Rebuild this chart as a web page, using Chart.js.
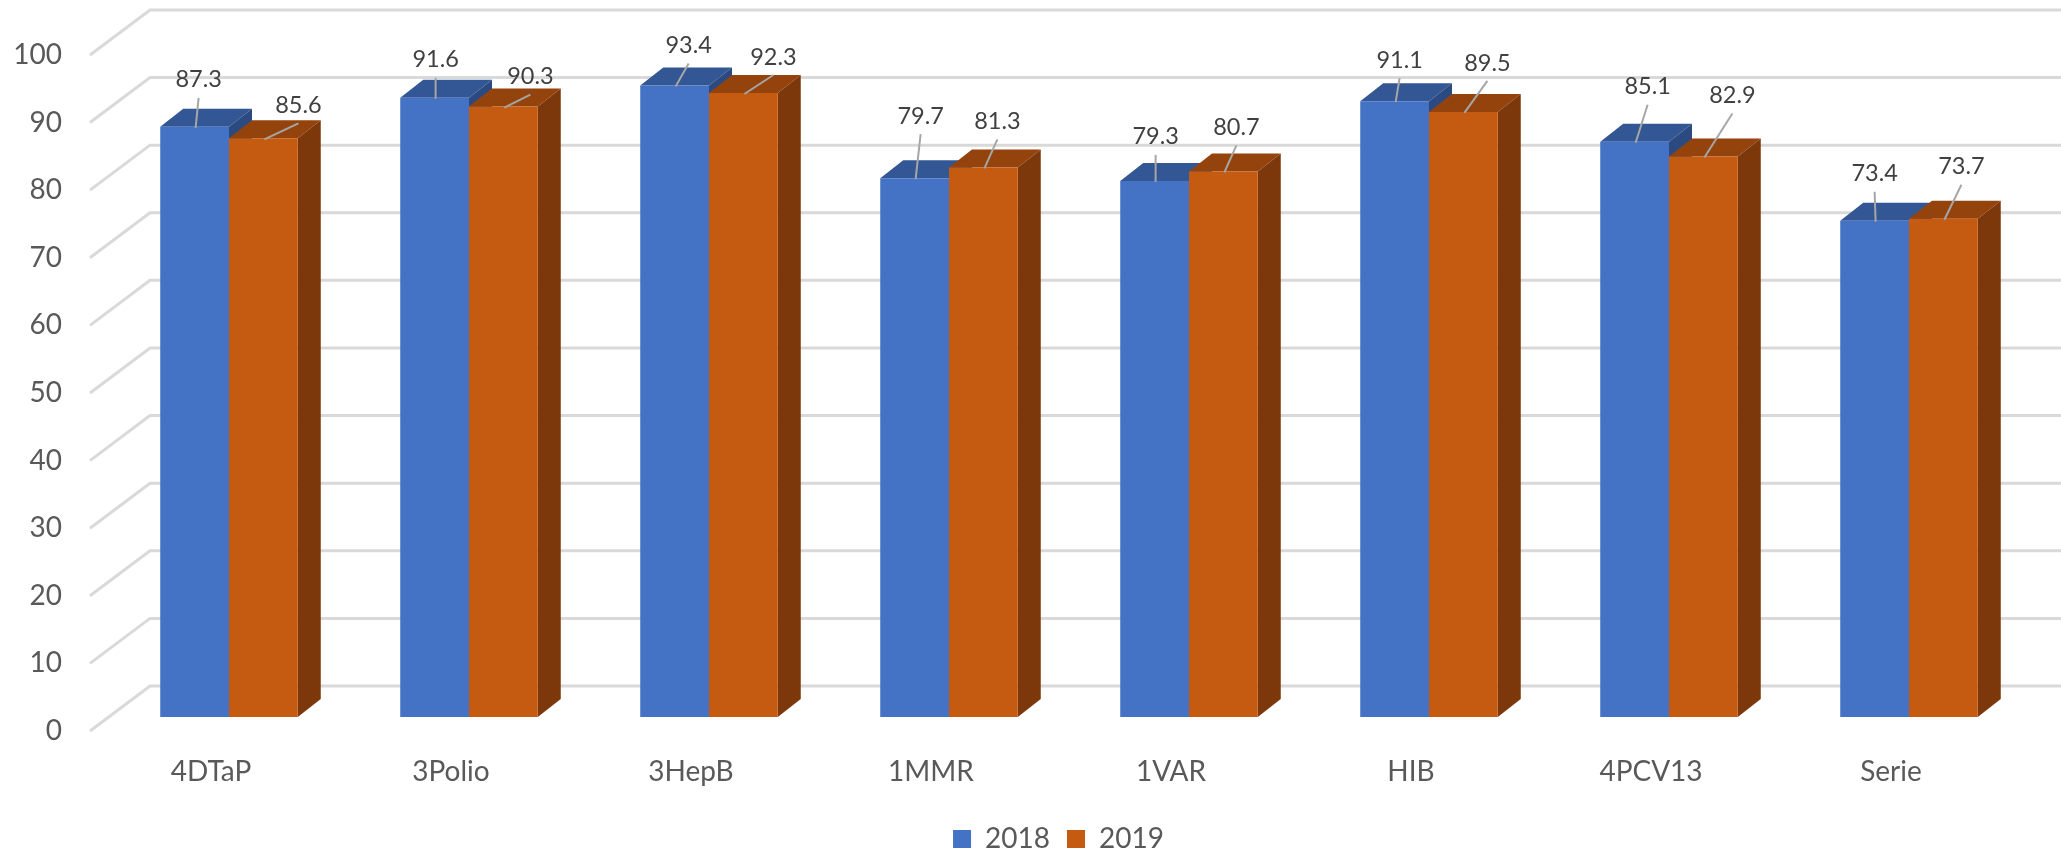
<!DOCTYPE html>
<html>
<head>
<meta charset="utf-8">
<style>html,body{margin:0;padding:0;background:#fff;overflow:hidden}canvas{display:block}</style>
<script src="https://cdn.jsdelivr.net/npm/chart.js@4"></script>
</head>
<body>
<canvas id="c" width="2061" height="850"></canvas>
<script>
const categories = ['4DTaP','3Polio','3HepB','1MMR','1VAR','HIB','4PCV13','Serie'];
const values2018 = [87.3,91.6,93.4,79.7,79.3,91.1,85.1,73.4];
const values2019 = [85.6,90.3,92.3,81.3,80.7,89.5,82.9,73.7];
const yTickStep = 10;

// Callout placement of each data label, relative to the top of its bar
const calloutDx = [[4,1,14,6,1,5,13,0],[35,27,30,14,13,24,29,18]];
const calloutDy = [[-47,-38,-40,-62,-44,-41,-55,-47],[-33,-30,-36,-46,-44,-49,-61,-52]];

const FONT = 'Lato, Carlito, Calibri, sans-serif';
const BAR_DEPTH_X = 23, BAR_DEPTH_Y = 18;
const WALL_DEPTH_X = 60, WALL_DEPTH_Y = 45, WALL_FRONT_X = 90;
const faces = [{top:'#335694',side:'#2B4A82'},{top:'#94430D',side:'#7C380A'}];

function poly(ctx, pts, fill){
  ctx.beginPath();
  pts.forEach((p,i)=> i ? ctx.lineTo(p[0],p[1]) : ctx.moveTo(p[0],p[1]));
  ctx.closePath();
  ctx.fillStyle = fill;
  ctx.fill();
}

const scene3d = {
  id:'scene3d',
  afterLayout(chart){
    // the legend sits off-centre and low in the reference
    const lg = chart.legend;
    lg.left += 44; lg.right += 44;
    lg.top += 13; lg.bottom += 13;
  },
  beforeDatasetsDraw(chart){
    const {ctx, scales} = chart;
    const axis = scales.yFront;
    ctx.save();
    ctx.strokeStyle = '#D9D9D9';
    ctx.lineWidth = 3;
    ctx.lineJoin = 'miter';
    axis.ticks.forEach(t=>{
      const py = axis.getPixelForValue(t.value);
      ctx.beginPath();
      ctx.moveTo(WALL_FRONT_X, py);
      ctx.lineTo(WALL_FRONT_X + WALL_DEPTH_X, py - WALL_DEPTH_Y);
      ctx.lineTo(chart.width, py - WALL_DEPTH_Y);
      ctx.stroke();
    });
    [0,1].forEach(ds=>{
      chart.getDatasetMeta(ds).data.forEach(bar=>{
        const p = bar.getProps(['x','y','base','width'], true);
        const l = p.x - p.width/2, r = p.x + p.width/2;
        poly(ctx, [[l,p.y],[l+BAR_DEPTH_X,p.y-BAR_DEPTH_Y],[r+BAR_DEPTH_X,p.y-BAR_DEPTH_Y],[r,p.y]], faces[ds].top);
        poly(ctx, [[r,p.y],[r+BAR_DEPTH_X,p.y-BAR_DEPTH_Y],[r+BAR_DEPTH_X,p.base-BAR_DEPTH_Y],[r,p.base]], faces[ds].side);
      });
    });
    ctx.restore();
  },
  afterDatasetsDraw(chart){
    const {ctx} = chart;
    ctx.save();
    ctx.font = '23.5px ' + FONT;
    ctx.textAlign = 'center';
    ctx.textBaseline = 'middle';
    [0,1].forEach(ds=>{
      const vals = chart.data.datasets[ds].data;
      chart.getDatasetMeta(ds).data.forEach((bar,i)=>{
        const p = bar.getProps(['x','y'], true);
        const lx = p.x + calloutDx[ds][i], ly = p.y + calloutDy[ds][i];
        ctx.strokeStyle = '#A6A6A6';
        ctx.lineWidth = 2;
        ctx.beginPath();
        ctx.moveTo(p.x + 1, p.y + 1);
        ctx.lineTo(lx, ly + 18);
        ctx.stroke();
        ctx.fillStyle = '#404040';
        ctx.fillText(vals[i].toFixed(1), lx, ly);
      });
    });
    ctx.restore();
  }
};

new Chart(document.getElementById('c'), {
  type:'bar',
  plugins:[scene3d],
  data:{
    labels:categories,
    datasets:[
      {label:'2018', data:values2018, backgroundColor:'#4472C4', yAxisID:'y', categoryPercentage:0.573, barPercentage:1, borderWidth:0},
      {label:'2019', data:values2019, backgroundColor:'#C55A11', yAxisID:'y', categoryPercentage:0.573, barPercentage:1, borderWidth:0}
    ]
  },
  options:{
    responsive:false,
    animation:false,
    devicePixelRatio:1,
    layout:{autoPadding:false,padding:{top:10,left:0,right:32,bottom:0}},
    plugins:{
      tooltip:{enabled:false},
      legend:{
        position:'bottom',
        labels:{boxWidth:18,boxHeight:18,padding:17,color:'#595959',font:{family:FONT,size:28}}
      }
    },
    scales:{
      x:{
        grid:{display:false},
        border:{display:false},
        afterFit(s){s.height=64;},
        ticks:{color:'#595959',font:{family:FONT,size:28},labelOffset:-18,padding:16,maxRotation:0,autoSkip:false}
      },
      y:{
        display:false,
        min:-2.07,
        max:104.58
      },
      yFront:{
        position:'left',
        axis:'y',
        min:0,
        max:106.65,
        grid:{display:false,drawTicks:false},
        border:{display:false},
        afterFit(s){s.width=109;s.paddingTop=0;s.paddingBottom=0;},
        ticks:{stepSize:yTickStep,includeBounds:false,color:'#595959',font:{family:FONT,size:28},padding:47}
      }
    }
  }
});
</script>
</body>
</html>
